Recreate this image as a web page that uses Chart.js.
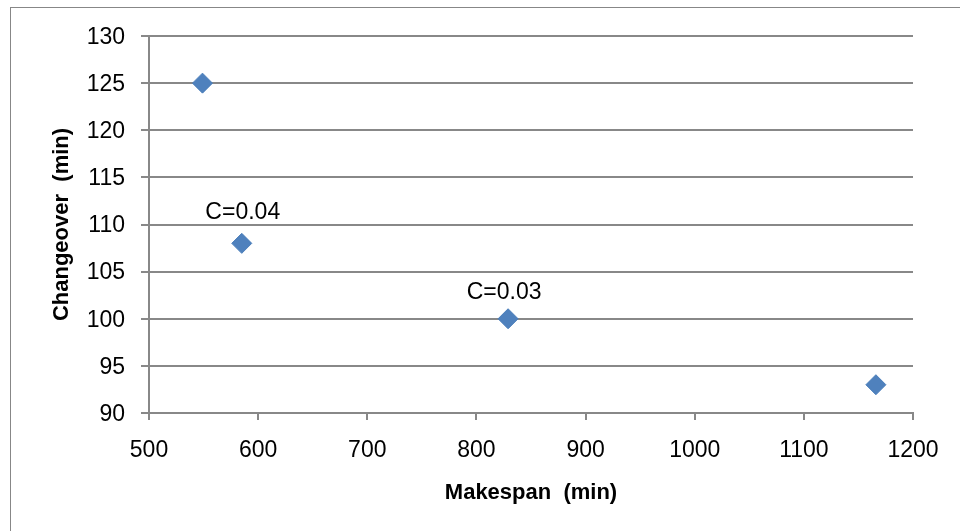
<!DOCTYPE html>
<html>
<head>
<meta charset="utf-8">
<title>Makespan vs Changeover</title>
<script src="https://cdn.jsdelivr.net/npm/chart.js@4.4.1/dist/chart.umd.min.js"></script>
<style>
  html, body { margin: 0; padding: 0; background: #ffffff; }
  #wrap { width: 960px; height: 531px; position: relative; }
  canvas { display: block; }
</style>
</head>
<body>
<div id="wrap"><canvas id="chart" width="960" height="531"></canvas></div>
<script>
// Trade-off points: makespan (min) against changeover time (min)
const makespan   = [549, 585, 829, 1166];
const changeover = [125, 108, 100, 93];
const pointNotes = ['', 'C=0.04', 'C=0.03', ''];

// Axis ranges and tick steps
const xTicks = [500, 600, 700, 800, 900, 1000, 1100, 1200];
const yTicks = [90, 95, 100, 105, 110, 115, 120, 125, 130];

const points = makespan.map((m, i) => ({ x: m, y: changeover[i] }));

const GRID = '#888888';
const FONT = "'Liberation Sans', Arial, sans-serif";

// Where each note sits relative to its marker (px)
const noteShift = { 1: { dx: 1, dy: -31 }, 2: { dx: -4, dy: -26 } };

const outerFrame = {
  id: 'outerFrame',
  beforeDraw(chart) {
    const ctx = chart.ctx;
    ctx.save();
    ctx.fillStyle = '#ffffff';
    ctx.fillRect(0, 0, chart.width, chart.height);
    ctx.strokeStyle = '#878787';
    ctx.lineWidth = 1;
    ctx.strokeRect(10.5, 7.5, chart.width + 20, chart.height + 20);
    ctx.restore();
  }
};

const pointNotesPlugin = {
  id: 'pointNotes',
  afterDatasetsDraw(chart) {
    const ctx = chart.ctx;
    const meta = chart.getDatasetMeta(0);
    ctx.save();
    ctx.font = "23px " + FONT;
    ctx.fillStyle = '#000000';
    ctx.textAlign = 'center';
    ctx.textBaseline = 'middle';
    meta.data.forEach((el, i) => {
      const text = pointNotes[i];
      if (!text) return;
      const s = noteShift[i] || { dx: 0, dy: -28 };
      ctx.fillText(text, el.x + s.dx, el.y + s.dy);
    });
    ctx.restore();
  }
};

const plainNumber = v => String(v);

new Chart(document.getElementById('chart'), {
  type: 'scatter',
  data: {
    datasets: [{
      data: points,
      pointStyle: 'rectRot',
      pointRadius: 10,
      pointHoverRadius: 10,
      backgroundColor: '#4F81BD',
      borderColor: '#4A7EBB',
      borderWidth: 1
    }]
  },
  options: {
    responsive: false,
    animation: false,
    events: [],
    layout: { padding: { left: 40, right: 47, top: 36, bottom: 20 } },
    plugins: {
      legend: { display: false },
      tooltip: { enabled: false }
    },
    scales: {
      x: {
        type: 'linear',
        min: xTicks[0],
        max: xTicks[xTicks.length - 1],
        afterBuildTicks(scale) { scale.ticks = xTicks.map(v => ({ value: v })); },
        afterFit(scale) { scale.height = 98; },
        ticks: {
          color: '#000000',
          padding: 17,
          maxRotation: 0,
          autoSkip: false,
          callback: plainNumber,
          font: { family: FONT, size: 23, lineHeight: 1.2 }
        },
        grid: {
          drawOnChartArea: false,
          drawTicks: true,
          tickLength: 7,
          color: GRID,
          lineWidth: 2
        },
        border: { display: true, color: GRID, width: 2 },
        title: {
          display: true,
          text: 'Makespan  (min)',
          color: '#000000',
          padding: { top: 0, bottom: 5 },
          font: { family: FONT, size: 22, weight: 'bold', lineHeight: 1.2 }
        }
      },
      y: {
        type: 'linear',
        min: yTicks[0],
        max: yTicks[yTicks.length - 1],
        afterBuildTicks(scale) { scale.ticks = yTicks.map(v => ({ value: v })); },
        afterFit(scale) { scale.width = 109; },
        ticks: {
          color: '#000000',
          padding: 16,
          labelOffset: 1.5,
          autoSkip: false,
          callback: plainNumber,
          font: { family: FONT, size: 23, lineHeight: 1.2 }
        },
        grid: {
          drawOnChartArea: true,
          drawTicks: true,
          tickLength: 8,
          color: GRID,
          lineWidth: 2
        },
        border: { display: true, color: GRID, width: 2 },
        title: {
          display: true,
          text: 'Changeover  (min)',
          color: '#000000',
          padding: { top: 9, bottom: 0 },
          font: { family: FONT, size: 22, weight: 'bold', lineHeight: 1.2 }
        }
      }
    }
  },
  plugins: [outerFrame, pointNotesPlugin]
});
</script>
</body>
</html>
